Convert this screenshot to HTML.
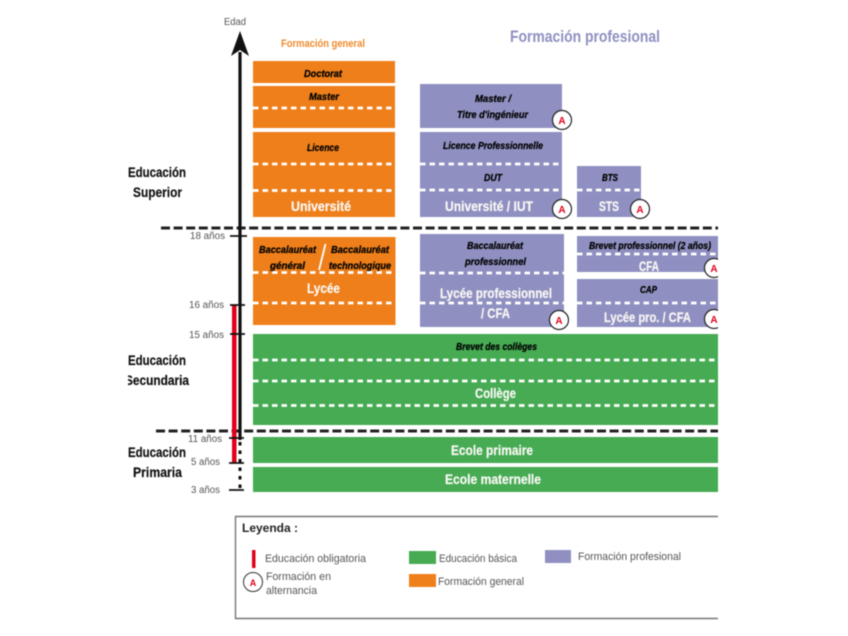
<!DOCTYPE html>
<html lang="es">
<head>
<meta charset="utf-8">
<title>Sistema educativo</title>
<style>
html,body{margin:0;padding:0;background:#fff;width:848px;height:636px;overflow:hidden}
svg{display:block;filter:blur(.45px)}
text{font-family:"Liberation Sans",sans-serif}
.i{font-style:italic;font-weight:700;fill:#000;stroke:#000;stroke-width:.25;font-size:10px}
.w{font-weight:700;fill:#fbf8f5;stroke:#fbf8f5;stroke-width:.2;font-size:14px}
.g{fill:#555;font-size:10px}
.b{font-weight:700;fill:#111;stroke:#111;stroke-width:.2;font-size:14px}
.l{fill:#555;font-size:11px}
.dw{stroke:#fff;stroke-width:2.8;stroke-dasharray:5.5 4;fill:none}
.dk{stroke:#222;stroke-width:3;stroke-dasharray:9 3.6;fill:none}
.t{stroke:#111;stroke-width:1.8}
</style>
</head>
<body>
<svg width="848" height="636" viewBox="0 0 848 636" xmlns="http://www.w3.org/2000/svg">
<!-- Orange -->
<g fill="#ee7f1a">
<rect x="253" y="61" width="142" height="22"/>
<rect x="253" y="86" width="142" height="42"/>
<rect x="253" y="132" width="142" height="85"/>
<rect x="253" y="237" width="142.500" height="88"/>
</g>
<!-- Purple -->
<g fill="#8f90c1">
<rect x="420" y="84" width="142" height="44"/>
<rect x="420" y="132" width="142" height="85"/>
<rect x="577" y="166" width="64" height="51"/>
<rect x="420" y="234" width="144" height="93"/>
<rect x="577" y="236" width="141" height="36"/>
<rect x="577" y="279" width="141" height="48"/>
</g>
<!-- Green -->
<g fill="#46ab53">
<rect x="253" y="334" width="465" height="91"/>
<rect x="253" y="437" width="465" height="26"/>
<rect x="253" y="467" width="465" height="25"/>
</g>
<!-- White dashes -->
<g class="dw">
<path d="M253 108H395M253 164H395M253 190.500H395M253 272.500H395M253 303H395"/>
<path d="M420 164H562M420 190H562M577 190H641M420 273H564M420 303H564M577 254H718M577 303H718"/>
<path d="M253 360H718M253 381H718M253 405.500H718"/>
</g>
<path d="M325.500 244L319 270" stroke="#fff" stroke-width="1.800" fill="none"/>
<!-- Section dashes -->
<path class="dk" d="M161 228H718M156 431H718"/>
<!-- Axis -->
<path d="M240 52V440" stroke="#111" stroke-width="3.200"/>
<path d="M240 31L249 56L240 50L231 56Z" fill="#111"/>
<path d="M240 442V492" stroke="#111" stroke-width="3" stroke-dasharray="3.500 5"/>
<rect x="232" y="305" width="4.500" height="158" fill="#e2001a"/>
<g class="t">
<path d="M230 236H247M230 305H245M230 334H245M229 438H244M229 463H244M229 490H244"/>
</g>
<!-- Axis labels -->
<g class="g" font-size="10">
<text x="224" y="25" textLength="22" lengthAdjust="spacingAndGlyphs">Edad</text>
<text x="190" y="239" textLength="35" lengthAdjust="spacingAndGlyphs">18 años</text>
<text x="189" y="308" textLength="35" lengthAdjust="spacingAndGlyphs">16 años</text>
<text x="189" y="338" textLength="35" lengthAdjust="spacingAndGlyphs">15 años</text>
<text x="188" y="442" textLength="34" lengthAdjust="spacingAndGlyphs">11 años</text>
<text x="191" y="465" textLength="29" lengthAdjust="spacingAndGlyphs">5 años</text>
<text x="191" y="493" textLength="29" lengthAdjust="spacingAndGlyphs">3 años</text>
</g>
<!-- Section labels -->
<text class="b" x="128" y="177" textLength="58" lengthAdjust="spacingAndGlyphs">Educación</text>
<text class="b" x="133" y="197" textLength="49" lengthAdjust="spacingAndGlyphs">Superior</text>
<text class="b" x="128" y="365" textLength="58" lengthAdjust="spacingAndGlyphs">Educación</text>
<text class="b" x="125" y="385" textLength="64" lengthAdjust="spacingAndGlyphs">Secundaria</text>
<rect x="120" y="370" width="8" height="20" fill="#fff"/>
<text class="b" x="128" y="457" textLength="58" lengthAdjust="spacingAndGlyphs">Educación</text>
<text class="b" x="133" y="477" textLength="49" lengthAdjust="spacingAndGlyphs">Primaria</text>
<!-- Headings -->
<text x="281" y="47" font-size="11" font-weight="700" fill="#ee8a2c" textLength="84" lengthAdjust="spacingAndGlyphs">Formación general</text>
<text x="510" y="42" font-size="17" font-weight="700" fill="#8f90c1" textLength="150" lengthAdjust="spacingAndGlyphs">Formación profesional</text>
<!-- Orange labels -->
<text class="i" x="304" y="77" textLength="38" lengthAdjust="spacingAndGlyphs">Doctorat</text>
<text class="i" x="309" y="100" textLength="30" lengthAdjust="spacingAndGlyphs">Master</text>
<text class="i" x="307" y="151" textLength="32" lengthAdjust="spacingAndGlyphs">Licence</text>
<text class="w" x="291" y="211" textLength="60" lengthAdjust="spacingAndGlyphs">Université</text>
<text class="i" x="259" y="253" textLength="57" lengthAdjust="spacingAndGlyphs">Baccalauréat</text>
<text class="i" x="270" y="269" textLength="35" lengthAdjust="spacingAndGlyphs">général</text>
<text class="i" x="331" y="253" textLength="58" lengthAdjust="spacingAndGlyphs">Baccalauréat</text>
<text class="i" x="329" y="269" textLength="62" lengthAdjust="spacingAndGlyphs">technologique</text>
<text class="w" x="307" y="293" textLength="33" lengthAdjust="spacingAndGlyphs">Lycée</text>
<!-- Purple labels -->
<text class="i" x="475" y="102" textLength="36" lengthAdjust="spacingAndGlyphs">Master /</text>
<text class="i" x="457" y="118" textLength="71" lengthAdjust="spacingAndGlyphs">Titre d'ingénieur</text>
<text class="i" x="443" y="149" textLength="100" lengthAdjust="spacingAndGlyphs">Licence Professionnelle</text>
<text class="i" x="484" y="181" textLength="18" lengthAdjust="spacingAndGlyphs">DUT</text>
<text class="w" x="445" y="211" textLength="88" lengthAdjust="spacingAndGlyphs">Université / IUT</text>
<text class="i" x="602" y="181" textLength="16" lengthAdjust="spacingAndGlyphs">BTS</text>
<text class="w" x="599" y="211" textLength="20" lengthAdjust="spacingAndGlyphs">STS</text>
<text class="i" x="467" y="249" textLength="56" lengthAdjust="spacingAndGlyphs">Baccalauréat</text>
<text class="i" x="465" y="265" textLength="61" lengthAdjust="spacingAndGlyphs">professionnel</text>
<text class="w" x="440" y="298" textLength="112" lengthAdjust="spacingAndGlyphs">Lycée professionnel</text>
<text class="w" x="481" y="318" textLength="29" lengthAdjust="spacingAndGlyphs">/ CFA</text>
<text class="i" x="589" y="249" textLength="122" lengthAdjust="spacingAndGlyphs">Brevet professionnel (2 años)</text>
<text class="w" x="639" y="271" textLength="20" lengthAdjust="spacingAndGlyphs">CFA</text>
<text class="i" x="640" y="293" textLength="17" lengthAdjust="spacingAndGlyphs">CAP</text>
<text class="w" x="604" y="322" textLength="87" lengthAdjust="spacingAndGlyphs">Lycée pro. / CFA</text>
<!-- Green labels -->
<text class="i" x="456" y="350" textLength="81" lengthAdjust="spacingAndGlyphs">Brevet des collèges</text>
<text class="w" x="475" y="398" textLength="41" lengthAdjust="spacingAndGlyphs">Collège</text>
<text class="w" x="451" y="455" textLength="82" lengthAdjust="spacingAndGlyphs">Ecole primaire</text>
<text class="w" x="445" y="484" textLength="96" lengthAdjust="spacingAndGlyphs">Ecole maternelle</text>
<!-- A badges -->
<g fill="#fff" stroke="#222" stroke-width="1.200">
<circle cx="562" cy="120" r="9.500"/>
<circle cx="562" cy="209" r="9.500"/>
<circle cx="640" cy="209" r="9.500"/>
<circle cx="559" cy="320" r="9.500"/>
<circle cx="714" cy="268" r="9.500"/>
<circle cx="714" cy="319" r="9.500"/>
</g>
<g fill="#e2001a" font-size="10" font-weight="700" text-anchor="middle">
<text x="562" y="124">A</text>
<text x="562" y="213">A</text>
<text x="640" y="213">A</text>
<text x="559" y="324">A</text>
<text x="714" y="272">A</text>
<text x="714" y="323">A</text>
</g>
<rect x="718" y="225" width="130" height="400" fill="#fff"/>
<!-- Legend -->
<path d="M718 516.500H235.500V618.500H718" fill="none" stroke="#777" stroke-width="1.400"/>
<text x="242" y="532" font-size="12" font-weight="700" fill="#222" textLength="56" lengthAdjust="spacingAndGlyphs">Leyenda :</text>
<rect x="252" y="550" width="3.500" height="18" fill="#e2001a"/>
<text class="l" x="265" y="562" textLength="101" lengthAdjust="spacingAndGlyphs">Educación obligatoria</text>
<circle cx="253" cy="582" r="9.500" fill="#fff" stroke="#333" stroke-width="1"/>
<text x="253" y="586" font-size="9" font-weight="700" fill="#e2001a" text-anchor="middle">A</text>
<text class="l" x="266" y="580" textLength="65" lengthAdjust="spacingAndGlyphs">Formación en</text>
<text class="l" x="266" y="594" textLength="51" lengthAdjust="spacingAndGlyphs">alternancia</text>
<rect x="409" y="551" width="27" height="13" fill="#46ab53"/>
<text class="l" x="439" y="562" textLength="78" lengthAdjust="spacingAndGlyphs">Educación básica</text>
<rect x="409" y="574" width="27" height="13" fill="#ee7f1a"/>
<text class="l" x="438" y="585" textLength="86" lengthAdjust="spacingAndGlyphs">Formación general</text>
<rect x="545" y="550" width="26" height="13" fill="#8f90c1"/>
<text class="l" x="578" y="560" textLength="103" lengthAdjust="spacingAndGlyphs">Formación profesional</text>
</svg>
</body>
</html>
